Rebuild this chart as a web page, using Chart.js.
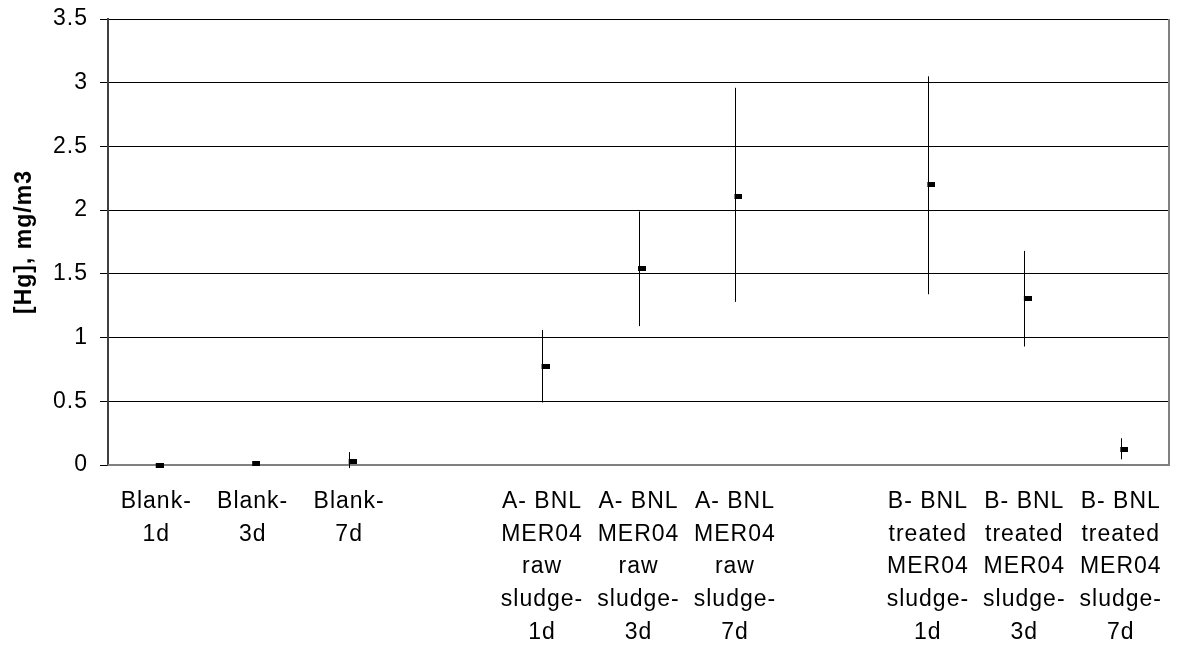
<!DOCTYPE html>
<html>
<head>
<meta charset="utf-8">
<script src="https://cdn.jsdelivr.net/npm/chart.js@4/dist/chart.umd.min.js"></script>
<style>
html,body{margin:0;padding:0;background:#fff;}
#wrap{width:1179px;height:649px;position:relative;}
</style>
</head>
<body>
<div id="wrap"><canvas id="c" width="1179" height="649"></canvas></div>
<script>
const categories = [
  ['Blank-','1d'], ['Blank-','3d'], ['Blank-','7d'], '',
  ['A- BNL','MER04','raw','sludge-','1d'], ['A- BNL','MER04','raw','sludge-','3d'], ['A- BNL','MER04','raw','sludge-','7d'], '',
  ['B- BNL','treated','MER04','sludge-','1d'], ['B- BNL','treated','MER04','sludge-','3d'], ['B- BNL','treated','MER04','sludge-','7d']
];
const hgValues = [0.0, 0.013, 0.026, null, 0.77, 1.54, 2.11, null, 2.20, 1.31, 0.125];
const errPlus  = [0, 0, 0.075, null, 0.29, 0.45, 0.85, null, 0.85, 0.37, 0.085];
const errMinus = [0, 0, 0.05, null, 0.28, 0.45, 0.83, null, 0.86, 0.38, 0.08];
const yTitle = '[Hg], mg/m3';
const FONT = 'Liberation Sans, Arial, sans-serif';

const marker = document.createElement('canvas');
marker.width = 15; marker.height = 5;
const mctx = marker.getContext('2d');
mctx.fillStyle = '#000';
mctx.fillRect(7,0,8,5);

const spacing = {
  id: 'spacing',
  beforeUpdate(chart) { chart.ctx.letterSpacing = '1px'; },
  beforeDraw(chart) { chart.ctx.letterSpacing = '1px'; }
};

const errorBars = {
  id: 'errorBars',
  beforeDatasetsDraw(chart) {
    const {ctx, scales:{x,y}, chartArea} = chart;
    ctx.save();
    ctx.strokeStyle = '#808080';
    ctx.lineWidth = 2;
    ctx.beginPath();
    ctx.moveTo(chartArea.right, chartArea.top);
    ctx.lineTo(chartArea.right, chartArea.bottom);
    ctx.lineTo(chartArea.left, chartArea.bottom);
    ctx.stroke();
    ctx.strokeStyle = '#000';
    ctx.lineWidth = 1;
    hgValues.forEach((v,i) => {
      if (v === null) return;
      const px = Math.round(x.getPixelForValue(i)) + 0.5;
      const top = y.getPixelForValue(v + errPlus[i]);
      const bot = y.getPixelForValue(v - errMinus[i]);
      if (bot - top < 1) return;
      ctx.beginPath();
      ctx.moveTo(px, top);
      ctx.lineTo(px, bot);
      ctx.stroke();
    });
    ctx.restore();
  }
};

new Chart(document.getElementById('c'), {
  type: 'line',
  data: {
    labels: categories,
    datasets: [{
      data: hgValues,
      showLine: false,
      clip: false,
      pointStyle: marker,
      pointRadius: 4,
      pointHoverRadius: 4,
      borderColor: '#000',
      backgroundColor: '#000'
    }]
  },
  options: {
    responsive: false,
    animation: false,
    events: [],
    layout: { padding: { top: 19, right: 10, left: 0, bottom: 0 } },
    plugins: { legend: { display: false }, tooltip: { enabled: false } },
    scales: {
      x: {
        type: 'category',
        offset: true,
        grid: { display: false, drawTicks: false },
        border: { display: false },
        ticks: {
          autoSkip: false, maxRotation: 0, minRotation: 0,
          color: '#000',
          padding: 20,
          font: { family: FONT, size: 23, lineHeight: 1.425 }
        },
        afterFit(s) { s.height = 184; s.paddingLeft = 0; s.paddingRight = 0; }
      },
      y: {
        min: 0, max: 3.5,
        ticks: {
          stepSize: 0.5,
          color: '#000',
          padding: 12,
          font: { family: FONT, size: 23 },
          callback: v => String(v)
        },
        grid: { color: '#000', lineWidth: 1, tickLength: 8, tickColor: '#000' },
        border: { display: true, color: '#404040', width: 2 },
        title: {
          display: true, text: yTitle, color: '#000',
          font: { family: FONT, size: 23, weight: 'bold' },
          padding: { top: 11, bottom: 0 }
        },
        afterFit(s) { s.width = 108; s.paddingTop = 0; s.paddingBottom = 0; }
      }
    }
  },
  plugins: [spacing, errorBars]
});
</script>
</body>
</html>
